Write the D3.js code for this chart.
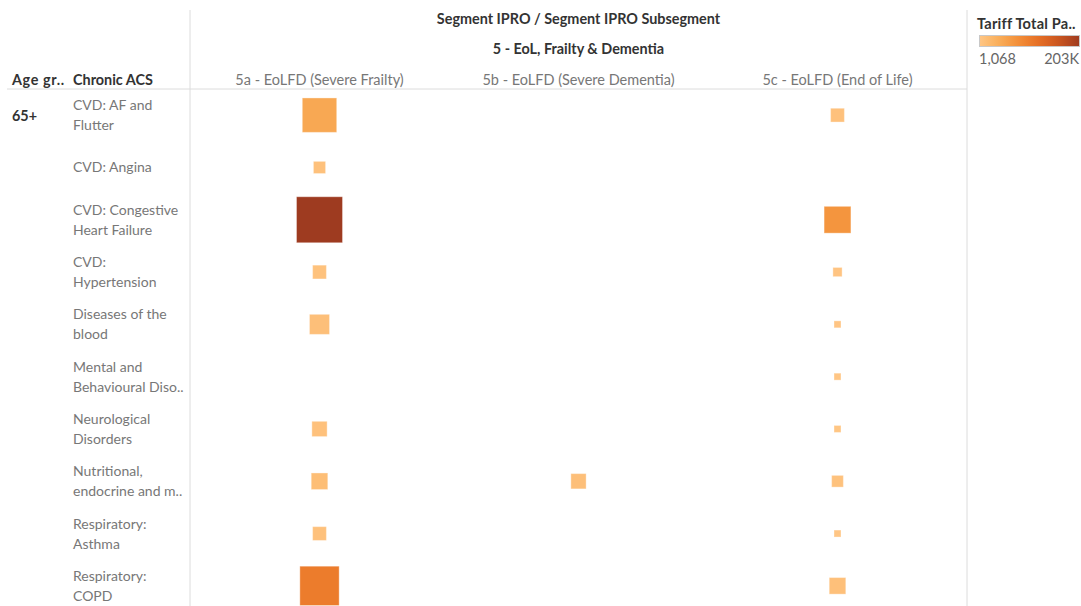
<!DOCTYPE html>
<html><head><meta charset="utf-8">
<script src="https://cdn.jsdelivr.net/npm/d3@7"></script>
<style>
body{margin:0;background:#fff;}
text{font-family:Lato,"Noto Sans",sans-serif;}
</style></head>
<body><svg id="c" width="1081" height="606"></svg>
<script>
// ---- data ----
const ageGroup = "65+";
const rowLabels = [
  ["CVD: AF and","Flutter"],
  ["CVD: Angina"],
  ["CVD: Congestive","Heart Failure"],
  ["CVD:","Hypertension"],
  ["Diseases of the","blood"],
  ["Mental and","Behavioural Diso.."],
  ["Neurological","Disorders"],
  ["Nutritional,","endocrine and m.."],
  ["Respiratory:","Asthma"],
  ["Respiratory:","COPD"]
];
const subsegments = ["5a - EoLFD (Severe Frailty)","5b - EoLFD (Severe Dementia)","5c - EoLFD (End of Life)"];
const segmentLabel = "5 - EoL, Frailty & Dementia";
// tariff (colour) per subsegment, by row; null = no mark
const tariff5a = [48000, 9000, 203000, 8000, 12000, null, 9000, 14000, 9000, 103000];
const tariff5b = [null, null, null, null, null, null, null, 12000, null, null];
const tariff5c = [9000, null, 72000, 4000, 2000, 1500, 1800, 8000, 1068, 11000];
// size measure per subsegment, by row
const size5a = [56, 7, 100, 9, 19, null, 11, 13, 9, 73];
const size5b = [null, null, null, null, null, null, null, 11, null, null];
const size5c = [9, null, 34, 4, 2.3, 2.3, 2.3, 6.5, 2.3, 13];
const legendMin = 1068, legendMax = 203000;
const legendLabels = ["1,068","203K"];

// ---- drawing ----
const svg = d3.select("#c");
const W = 1081, H = 606;
const paneL = 190, paneR = 967, headerY = 89, rowH = 52.3;

const x = d3.scaleBand().domain(subsegments).range([paneL, paneR]);
const y = d3.scaleBand().domain(d3.range(rowLabels.length)).range([headerY, headerY + rowH*rowLabels.length]);
const colorInterp = d3.interpolateRgbBasis(["#ffc685","#f8a84c","#ef7a28","#d65b1f","#9e3b20"]);
const color = d3.scaleSequential(colorInterp).domain([legendMin, legendMax]);
const size = d3.scaleSqrt().domain([0, 100]).range([0, 46]);

const tariffs = [tariff5a, tariff5b, tariff5c];
const sizes = [size5a, size5b, size5c];
const marks = [];
subsegments.forEach((s, ci) => {
  rowLabels.forEach((r, ri) => {
    if (tariffs[ci][ri] != null) marks.push({col: s, row: ri, t: tariffs[ci][ri], s: sizes[ci][ri]});
  });
});

// lines
svg.append("line").attr("x1",7).attr("x2",paneR).attr("y1",headerY).attr("y2",headerY).attr("stroke","#dcdcdc").attr("stroke-width",1);
svg.append("line").attr("x1",paneL).attr("x2",paneL).attr("y1",10).attr("y2",H).attr("stroke","#dcdcdc");
svg.append("line").attr("x1",paneR).attr("x2",paneR).attr("y1",10).attr("y2",H).attr("stroke","#dcdcdc");

// headers
const cx = (paneL + paneR)/2;
const boldFs = 14.4;
svg.append("text").attr("x",cx).attr("y",18).attr("text-anchor","middle").attr("dominant-baseline","central")
  .attr("font-size",boldFs).attr("font-weight","bold").attr("fill","#333").text("Segment IPRO  /  Segment IPRO Subsegment");
svg.append("text").attr("x",cx).attr("y",48).attr("text-anchor","middle").attr("dominant-baseline","central")
  .attr("font-size",boldFs).attr("font-weight","bold").attr("fill","#333").text(segmentLabel);
svg.selectAll(".colh").data(subsegments).join("text")
  .attr("x", d => x(d) + x.bandwidth()/2).attr("y",79).attr("text-anchor","middle").attr("dominant-baseline","central")
  .attr("font-size",14.5).attr("fill","#777").text(d => d);
svg.append("text").attr("x",12).attr("y",79).attr("dominant-baseline","central").attr("font-size",boldFs).attr("font-weight","bold").attr("fill","#333").attr("letter-spacing",0.6).text("Age gr..");
svg.append("text").attr("x",73).attr("y",79).attr("dominant-baseline","central").attr("font-size",boldFs).attr("font-weight","bold").attr("fill","#333").text("Chronic ACS");
svg.append("text").attr("x",12).attr("y",y(0)+y.bandwidth()/2).attr("dominant-baseline","central").attr("font-size",boldFs).attr("font-weight","bold").attr("fill","#333").text(ageGroup);

// row labels
const rl = svg.selectAll(".rl").data(rowLabels).join("text")
  .attr("font-size",14).attr("fill","#777");
rl.each(function(lines, i){
  const c = y(i) + y.bandwidth()/2;
  const lh = 20;
  d3.select(this).selectAll("tspan").data(lines).join("tspan")
    .attr("x",73).attr("y",(d,j)=> c - 0.5 + (j - (lines.length-1)/2)*lh).attr("dominant-baseline","central").text(d=>d);
});

// marks
svg.selectAll(".m").data(marks).join("rect")
  .attr("x", d => x(d.col) + x.bandwidth()/2 - size(d.s)/2)
  .attr("y", d => y(d.row) + y.bandwidth()/2 - size(d.s)/2)
  .attr("width", d => size(d.s)).attr("height", d => size(d.s))
  .attr("fill", d => color(d.t))
  .attr("stroke", "#fff").attr("stroke-opacity",0.35).attr("stroke-width",1);

// legend
svg.append("text").attr("x",977).attr("y",23).attr("dominant-baseline","central").attr("font-size",14.6).attr("font-weight","bold").attr("fill","#333").attr("letter-spacing",0.2).text("Tariff Total Pa..");
const defs = svg.append("defs");
const grad = defs.append("linearGradient").attr("id","lg");
d3.range(0,1.01,0.1).forEach(t => grad.append("stop").attr("offset", t).attr("stop-color", colorInterp(t)));
svg.append("rect").attr("x",979.5).attr("y",35.5).attr("width",100).attr("height",11).attr("fill","url(#lg)").attr("stroke","#c8c8c8");
svg.append("text").attr("x",979).attr("y",58).attr("dominant-baseline","central").attr("font-size",14.5).attr("fill","#666").text(legendLabels[0]);
svg.append("text").attr("x",1079).attr("y",58).attr("text-anchor","end").attr("dominant-baseline","central").attr("font-size",14.5).attr("fill","#666").text(legendLabels[1]);
</script></body></html>
